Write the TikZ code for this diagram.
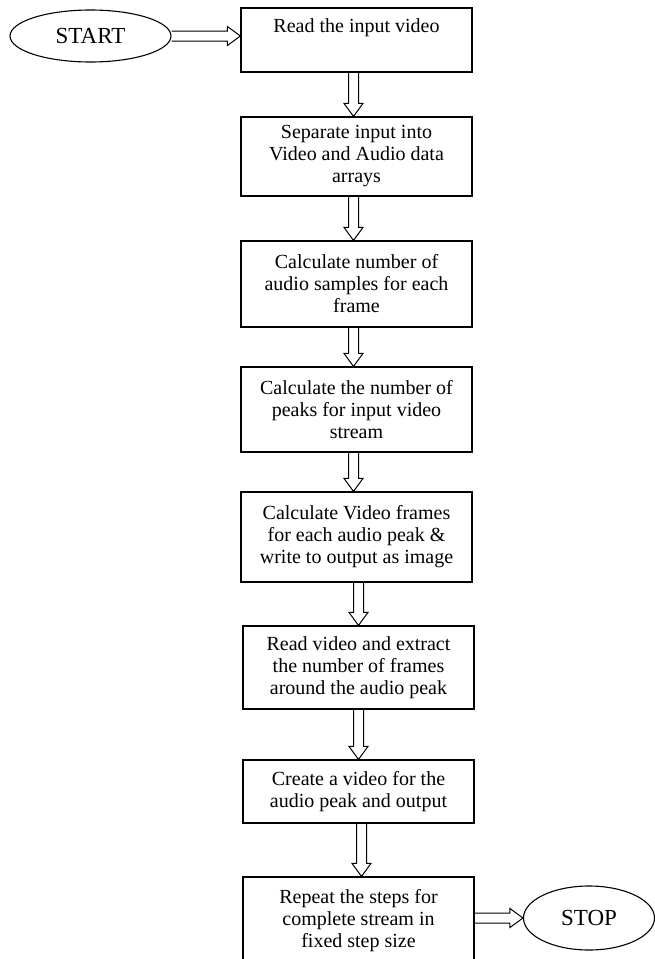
\documentclass[tikz,border=0pt]{standalone}
\usepackage{fontspec}
\setmainfont{Liberation Serif}
\usetikzlibrary{calc, shapes.geometric}
\def\shaftHalf{5pt}
\def\headHalf{9.5pt}
\def\headLen{13pt}
\def\boxW{231pt}

\begin{document}
\begin{tikzpicture}[
    x=1pt, y=-1pt,
    every node/.style={font=\fontsize{20}{22}\selectfont, align=center},
    stepbox/.style={draw, line width=1.2pt, minimum width=\boxW, inner sep=0pt},
    terminal/.style={ellipse, draw, line width=1.1pt, inner sep=0pt, font=\fontsize{23}{26}\selectfont},
    arrowdown/.style={to path={
        let \p1=(\tikztostart), \p2=(\tikztotarget) in
        (\x1-\shaftHalf,\y1) -- (\x1-\shaftHalf,\y2+\headLen) -- (\x1-\headHalf,\y2+\headLen)
        -- (\x1,\y2) -- (\x1+\headHalf,\y2+\headLen) -- (\x1+\shaftHalf,\y2+\headLen)
        -- (\x1+\shaftHalf,\y1)}},
    arrowright/.style={to path={
        let \p1=(\tikztostart), \p2=(\tikztotarget) in
        (\x1,\y1+\shaftHalf) -- (\x2-\headLen,\y1+\shaftHalf) -- (\x2-\headLen,\y1+\headHalf)
        -- (\x2,\y1) -- (\x2-\headLen,\y1-\headHalf) -- (\x2-\headLen,\y1-\shaftHalf)
        -- (\x1,\y1-\shaftHalf)}},
    link/.style={draw, line width=1pt, line join=miter}
]
\useasboundingbox (0,0) rectangle (655,959);

\node[terminal, minimum width=161pt, minimum height=52pt] (start) at (90.5,36) {START};
\node[stepbox, minimum height=64pt] (b1) at (356.5,40) {Read the input video\\[6pt]\mbox{}};
\node[stepbox, minimum height=79pt] (b2) at (356.5,156.5) {Separate input into\\Video and Audio data\\arrays};
\node[stepbox, minimum height=86pt] (b3) at (356.5,284) {Calculate number of\\audio samples for each\\frame};
\node[stepbox, minimum height=85pt] (b4) at (356.5,409.5) {Calculate the number of\\peaks for input video\\stream};
\node[stepbox, minimum height=90pt] (b5) at (356.5,537) {Calculate Video frames\\for each audio peak \&\\write to output as image};
\node[stepbox, minimum height=83pt] (b6) at (358.5,667.5) {Read video and extract\\the number of frames\\around the audio peak};
\node[stepbox, minimum height=63pt] (b7) at (358.5,791.5) {Create a video for the\\audio peak and output};
\node[stepbox, minimum height=88pt] (b8) at (358.5,921) {Repeat the steps for\\complete stream in\\fixed step size};
\node[terminal, minimum width=131pt, minimum height=64pt] (stop) at (589,918) {STOP};

% flow
\path[link] (start.east) to[arrowright] (start.east -| b1.west);
\path[link] ([xshift=-3pt]b1.south) to[arrowdown] (b2.north);
\path[link] ([xshift=-3pt]b2.south) to[arrowdown] (b3.north);
\path[link] ([xshift=-3pt]b3.south) to[arrowdown] (b4.north);
\path[link] ([xshift=-3pt]b4.south) to[arrowdown] (b5.north);
\path[link] ([xshift=2pt]b5.south) to[arrowdown] (b6.north);
\path[link] (b6.south) to[arrowdown] (b7.north);
\path[link] ([xshift=3pt]b7.south) to[arrowdown] (b8.north);
\path[link] (stop.west -| b8.east) to[arrowright] (stop.west);
\end{tikzpicture}
\end{document}
